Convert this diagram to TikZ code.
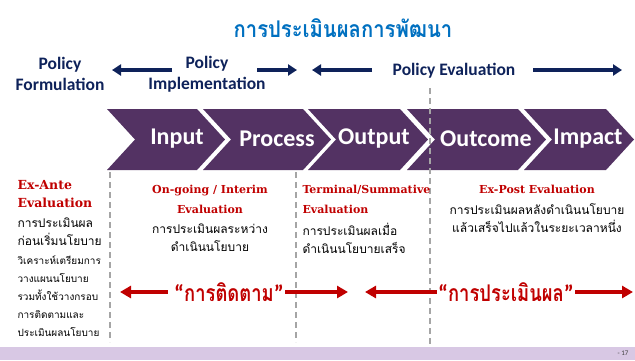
\documentclass[tikz,border=0pt]{standalone}
\usepackage{fontspec}
\setmainfont{DejaVu Serif}
\newfontfamily\thaifont[Script=Thai]{Loma}
\newfontfamily\thainarrow[Script=Thai,FakeStretch=0.88]{Loma}
\newfontfamily\thaicond[Script=Thai,FakeStretch=0.8]{Loma}
\newfontfamily\calfont{Carlito}
\usetikzlibrary{arrows.meta}
\definecolor{navy}{RGB}{14,34,90}
\definecolor{titleblue}{RGB}{0,112,192}
\definecolor{chevpurple}{RGB}{83,50,99}
\definecolor{evalred}{RGB}{192,0,0}
\definecolor{sepgray}{RGB}{165,165,165}
\definecolor{bandpurple}{RGB}{216,200,228}
\begin{document}
\begin{tikzpicture}[x=1pt,y=-1pt,
  chev/.style={fill=chevpurple},
  chevlabel/.style={text=white,font=\calfont\bfseries\fontsize{24}{24}\selectfont},
  navyarrow/.style={draw=navy,line width=3.5pt,-{Triangle[length=9pt,width=11pt]}},
  redarrow/.style={draw=evalred,line width=3.5pt,-{Triangle[length=11pt,width=12pt]}},
  phase/.style={text=navy,font=\calfont\bfseries\fontsize{17.5}{21}\selectfont,align=center},
  evalhead/.style={text=evalred,font=\bfseries\fontsize{11}{20}\selectfont},
  thaitext/.style={font=\thaifont\fontsize{12}{18}\selectfont},
  thaismall/.style={font=\thaifont\fontsize{10}{18}\selectfont,anchor=west,align=left},
  bigred/.style={text=evalred,inner sep=1pt,font=\thaicond\bfseries\fontsize{23}{23}\selectfont},
  sep/.style={draw=sepgray,line width=1.2pt,dash pattern=on 6pt off 4pt}]
	\useasboundingbox (0,0) rectangle (635,360);
	% หัวเรื่อง
	\node[text=titleblue,font=\thainarrow\bfseries\fontsize{23}{23}\selectfont] (title) at (343,28) {การประเมินผลการพัฒนา};
	% ช่วงของนโยบาย
	\node[phase] (formulation) at (60,74) {Policy\\Formulation};
	\node[phase] (implementation) at (207,74) {Policy\\Implementation};
	\node[phase] (evaluation) at (454,71) {Policy Evaluation};
	\coordinate (a1s) at (172,70); \coordinate (a1e) at (112,70);
	\coordinate (a2s) at (257,70); \coordinate (a2e) at (297,70);
	\coordinate (a3s) at (372,70); \coordinate (a3e) at (312,70);
	\coordinate (a4s) at (533,70); \coordinate (a4e) at (622,70);
	\draw[navyarrow] (a1s) -- (a1e);
	\draw[navyarrow] (a2s) -- (a2e);
	\draw[navyarrow] (a3s) -- (a3e);
	\draw[navyarrow] (a4s) -- (a4e);
	% ลูกศรห้าช่วง
	\fill[chev] (107,109) -- (197,109) -- (225,139.5) -- (197,170) -- (107,170) -- (135,139.5) -- cycle;
	\fill[chev] (203,109) -- (303,109) -- (331,139.5) -- (303,170) -- (203,170) -- (231,139.5) -- cycle;
	\fill[chev] (308,109) -- (400,109) -- (428,139.5) -- (400,170) -- (308,170) -- (336,139.5) -- cycle;
	\fill[chev] (407,109) -- (518,109) -- (546,139.5) -- (518,170) -- (407,170) -- (435,139.5) -- cycle;
	\fill[chev] (524,109) -- (606,109) -- (634,139.5) -- (606,170) -- (524,170) -- (552,139.5) -- cycle;
	\node[chevlabel] (input) at (177,139) {Input};
	\node[chevlabel] (process) at (277,139) {Process};
	\node[chevlabel] (output) at (374,139) {Output};
	\node[chevlabel] (outcome) at (486,139) {Outcome};
	\node[chevlabel] (impact) at (588,139) {Impact};
	% เส้นแบ่ง
	\draw[sep] (110,172) -- (110,342);
	\draw[sep] (296,172) -- (296,342);
	\draw[sep] (430,88) -- (430,345);
	% Ex-Ante
	\node[evalhead,anchor=west,align=left,font=\bfseries\fontsize{12.5}{18}\selectfont] (exante) at (14,194) {Ex-Ante\\Evaluation};
	\node[thaitext,anchor=west,align=left] (exantetext) at (14,231.5) {การประเมินผล\\ก่อนเริ่มนโยบาย};
	\node[thaismall] (exantenote) at (14,296) {วิเคราะห์เตรียมการ\\วางแผนนโยบาย\\รวมทั้งใช้วางกรอบ\\การติดตามและ\\ประเมินผลนโยบาย};
	% On-going
	\node[evalhead,align=center] (ongoing) at (210,199) {On-going / Interim\\Evaluation};
	\node[thaitext,align=center] (ongoingtext) at (210,238) {การประเมินผลระหว่าง\\ดำเนินนโยบาย};
	% Terminal
	\node[evalhead,anchor=west,align=left] (terminal) at (299,199) {Terminal/Summative\\Evaluation};
	\node[thaitext,anchor=west,align=left] (terminaltext) at (299,238) {การประเมินผลเมื่อ\\ดำเนินนโยบายเสร็จ};
	% Ex-Post
	\node[evalhead] (expost) at (537,189) {Ex-Post Evaluation};
	\node[thaitext,align=center] (exposttext) at (537,218) {การประเมินผลหลังดำเนินนโยบาย\\แล้วเสร็จไปแล้วในระยะเวลาหนึ่ง};
	% การติดตาม / การประเมินผล
	\node[bigred] (monitor) at (229,292) {{\calfont “}การติดตาม{\calfont ”}};
	\node[bigred] (assess) at (506,292) {{\calfont “}การประเมินผล{\calfont ”}};
	\coordinate (m1) at (120,292); \coordinate (m2) at (348,292);
	\coordinate (e1) at (365,292); \coordinate (e2) at (633,292);
	\draw[redarrow,shorten <=5pt] (monitor.west) -- (m1);
	\draw[redarrow] (monitor.east) -- (m2);
	\draw[redarrow] (assess.west) -- (e1);
	\draw[redarrow] (assess.east) -- (e2);
	% แถบล่าง
	\fill[bandpurple] (0,347) rectangle (635,360);
	\node[text=black!75,font=\calfont\fontsize{7}{7}\selectfont] (pagenum) at (623,353.5) {- 17};
\end{tikzpicture}
\end{document}
